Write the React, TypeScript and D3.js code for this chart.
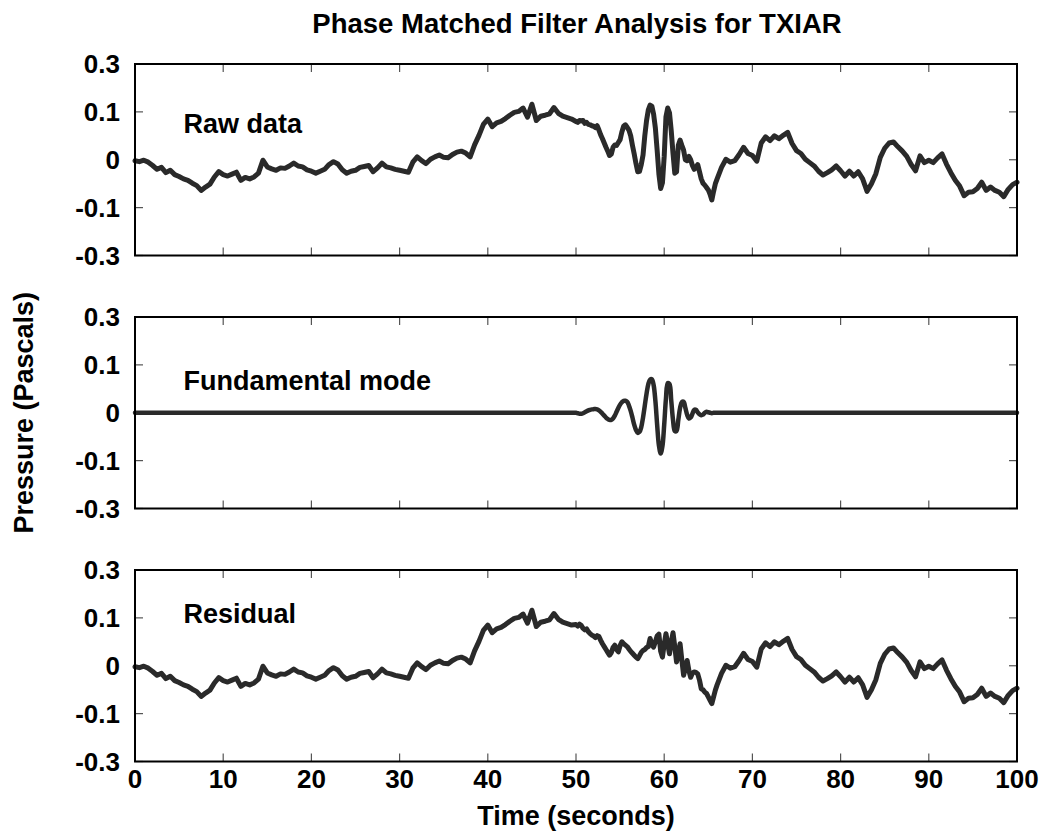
import React from "react";
import * as d3 from "d3";

// ---------- text ----------
const TITLE = "Phase Matched Filter Analysis for TXIAR";
const X_LABEL = "Time (seconds)";
const Y_LABEL = "Pressure (Pascals)";
const PANEL_LABELS = ["Raw data", "Fundamental mode", "Residual"];

// ---------- ticks ----------
const X_TICKS = [0, 10, 20, 30, 40, 50, 60, 70, 80, 90, 100];
const Y_TICK_VALUES = [-0.2, -0.1, 0, 0.1, 0.2];
const Y_TICK_LABELS = ["-0.3", "-0.1", "0", "0.1", "0.3"];

// ---------- time grid (s) ----------
const r1 = (v: number) => Math.round(v * 10) / 10;
const TIMES_A = d3.range(0, 50, 0.5).map(r1); // 0 .. 49.5
const TIMES_B = d3.range(50, 66.001, 0.2).map(r1); // 50 .. 66
const TIMES_C = d3.range(66.5, 100.001, 0.5).map(r1); // 66.5 .. 100

// ---------- residual (Pa) ----------
const RESIDUAL_A = [
  -0.002, -0.004, -0.001, -0.005, -0.012, -0.02, -0.016, -0.027, -0.022, -0.031,
  -0.035, -0.04, -0.043, -0.049, -0.054, -0.064, -0.057, -0.051, -0.036, -0.025,
  -0.031, -0.034, -0.03, -0.026, -0.043, -0.037, -0.04, -0.036, -0.028, -0.001,
  -0.015, -0.019, -0.022, -0.017, -0.018, -0.013, -0.007, -0.013, -0.015, -0.021,
  -0.024, -0.028, -0.024, -0.02, -0.01, -0.004, -0.009, -0.021, -0.028, -0.024,
  -0.022, -0.016, -0.014, -0.012, -0.025, -0.017, -0.007, -0.015, -0.017, -0.02,
  -0.022, -0.024, -0.026, -0.005, 0.006, -0.002, -0.008, 0.001, 0.006, 0.01,
  0.005, 0.004, 0.011, 0.016, 0.018, 0.014, 0.006, 0.031, 0.051, 0.074,
  0.085, 0.069, 0.077, 0.08, 0.086, 0.093, 0.099, 0.101, 0.108, 0.089,
  0.116, 0.082, 0.091, 0.093, 0.096, 0.109, 0.097, 0.091, 0.088, 0.085,
];
const RESIDUAL_B = [
  0.086, 0.083, 0.087, 0.084, 0.078, 0.075, 0.077, 0.071, 0.067, 0.064,
  0.062, 0.059, 0.063, 0.061, 0.053, 0.046, 0.04, 0.034, 0.028, 0.022,
  0.027, 0.038, 0.043, 0.034, 0.029, 0.042, 0.05, 0.046, 0.043, 0.04,
  0.035, 0.03, 0.026, 0.022, 0.018, 0.015, 0.021, 0.028, 0.032, 0.034,
  0.038, 0.04, 0.057, 0.045, 0.039, 0.05, 0.062, 0.066, 0.03, 0.018,
  0.045, 0.067, 0.045, 0.025, 0.05, 0.069, 0.04, 0.008, 0.025, 0.046,
  0.012, -0.02, -0.005, 0.011, -0.01, -0.024, -0.015, -0.013, -0.014, -0.017,
  -0.03, -0.048, -0.05, -0.055, -0.058, -0.065, -0.072, -0.079, -0.065, -0.051,
  -0.04,
];
const RESIDUAL_C = [
  -0.016, 0.001, -0.005, -0.002, 0.011, 0.026, 0.013, 0.009, -0.003, 0.035,
  0.048, 0.04, 0.05, 0.044, 0.051, 0.057, 0.034, 0.019, 0.013, 0.001,
  -0.006, -0.013, -0.024, -0.032, -0.027, -0.021, -0.013, -0.023, -0.034, -0.024,
  -0.034, -0.025, -0.04, -0.066, -0.05, -0.029, 0.005, 0.024, 0.035, 0.037,
  0.027, 0.018, 0.007, -0.01, -0.023, 0.008, -0.006, -0.001, -0.006, 0.004,
  0.012, -0.009, -0.027, -0.043, -0.055, -0.075, -0.068, -0.067, -0.06, -0.047,
  -0.064, -0.057, -0.064, -0.068, -0.077, -0.062, -0.052, -0.047,
];

// ---------- raw data (Pa) on 50..66 s (elsewhere identical to residual) ----------
const RAW_B = [
  0.08, 0.078, 0.082, 0.081, 0.082, 0.076, 0.078, 0.074, 0.073, 0.071,
  0.07, 0.067, 0.071, 0.062, 0.052, 0.044, 0.035, 0.026, 0.018, 0.009,
  0.012, 0.026, 0.031, 0.03, 0.036, 0.042, 0.058, 0.07, 0.073, 0.068,
  0.062, 0.05, 0.03, 0.012, -0.008, -0.025, -0.024, -0.01, 0.01, 0.05,
  0.082, 0.104, 0.114, 0.112, 0.095, 0.066, 0.02, -0.03, -0.06, -0.048,
  0.007, 0.09, 0.108, 0.098, 0.06, 0.013, -0.028, -0.025, 0.03, 0.041,
  0.03, 0.02, 0.0, -0.002, 0.007, 0.0, -0.012, -0.02, -0.016, -0.01,
  -0.025, -0.04, -0.049, -0.053, -0.058, -0.063, -0.072, -0.084, -0.066, -0.05,
  -0.04,
];

// ---------- fundamental mode (Pa), non-zero only on 50..66 s ----------
const FUNDAMENTAL_B = [
  0.0, -0.001, -0.002, -0.002, -0.001, 0.001, 0.003, 0.005, 0.006, 0.007,
  0.0075, 0.0078, 0.007, 0.005, 0.002, -0.002, -0.006, -0.01, -0.013, -0.015,
  -0.015, -0.012, -0.006, 0.002, 0.01, 0.017, 0.022, 0.025, 0.025, 0.023,
  0.015, 0.004, -0.01, -0.025, -0.036, -0.042, -0.04, -0.03, -0.01, 0.015,
  0.04, 0.06, 0.069, 0.07, 0.058, 0.025, -0.025, -0.068, -0.085, -0.07,
  -0.025, 0.03, 0.062, 0.06, 0.025, -0.015, -0.038, -0.038, -0.015, 0.01,
  0.022, 0.023, 0.01, -0.004, -0.012, -0.01, -0.002, 0.006, 0.006, 0.001,
  -0.003, -0.005, -0.004, 0.0, 0.002, 0.001, 0.0, -0.001, 0.0, 0.0,
  0.0,
];

// ---------- assembled series ----------
const TIMES = [...TIMES_A, ...TIMES_B, ...TIMES_C];
const RESIDUAL = [...RESIDUAL_A, ...RESIDUAL_B, ...RESIDUAL_C];
const RAW = [...RESIDUAL_A, ...RAW_B, ...RESIDUAL_C];
const FUNDAMENTAL = [
  ...TIMES_A.map(() => 0),
  ...FUNDAMENTAL_B,
  ...TIMES_C.map(() => 0),
];

type Pt = [number, number];
const SERIES: Pt[][] = [
  TIMES.map((t, i) => [t, RAW[i]] as Pt),
  TIMES.map((t, i) => [t, FUNDAMENTAL[i]] as Pt),
  TIMES.map((t, i) => [t, RESIDUAL[i]] as Pt),
];

// ---------- layout ----------
const W = 1045;
const H = 833;
const X0 = 135;
const X1 = 1017;
const PANEL_TOPS = [64, 317, 570];
const PANEL_H = 191.5;
const LABEL_POS: Pt[] = [
  [5.5, 0.056],
  [5.5, 0.047],
  [5.5, 0.089],
];
const FONT = "'Liberation Sans', Arial, Helvetica, sans-serif";
const LINE_COLOR = "#2a2a2a";
const LINE_WIDTHS = [5, 4.5, 5];
const TICK_LEN = 8;

export default function App() {
  const x = d3.scaleLinear().domain([0, 100]).range([X0, X1]);

  return (
    <svg
      width={W}
      height={H}
      style={{ position: "absolute", left: 0, top: 0, background: "#fff" }}
      fontFamily={FONT}
      fontWeight="bold"
    >
      <rect x={0} y={0} width={W} height={H} fill="#fff" />
      <text x={(X0 + X1) / 2 + 1} y={33} textAnchor="middle" fontSize={27.5}>
        {TITLE}
      </text>

      {PANEL_TOPS.map((top, p) => {
        const y = d3
          .scaleLinear()
          .domain([-0.2, 0.2])
          .range([top + PANEL_H, top]);
        const line = d3
          .line<Pt>()
          .x((d) => x(d[0]))
          .y((d) => y(d[1]))
          .curve(p === 1 ? d3.curveCatmullRom.alpha(0.5) : d3.curveLinear);
        const bottom = top + PANEL_H;
        return (
          <g key={p}>
            {Y_TICK_VALUES.map((v, i) => (
              <g key={"y" + i}>
                <line
                  x1={X0}
                  x2={X0 + TICK_LEN}
                  y1={y(v)}
                  y2={y(v)}
                  stroke="#555"
                  strokeWidth={1.2}
                />
                <line
                  x1={X1 - TICK_LEN}
                  x2={X1}
                  y1={y(v)}
                  y2={y(v)}
                  stroke="#555"
                  strokeWidth={1.2}
                />
                <text x={120} y={y(v) + 9} textAnchor="end" fontSize={26}>
                  {Y_TICK_LABELS[i]}
                </text>
              </g>
            ))}
            {X_TICKS.map((t) => (
              <g key={"x" + t}>
                <line
                  x1={x(t)}
                  x2={x(t)}
                  y1={bottom}
                  y2={bottom - TICK_LEN}
                  stroke="#555"
                  strokeWidth={1.2}
                />
                <line
                  x1={x(t)}
                  x2={x(t)}
                  y1={top}
                  y2={top + TICK_LEN}
                  stroke="#555"
                  strokeWidth={1.2}
                />
              </g>
            ))}
            <path
              d={line(SERIES[p]) || ""}
              fill="none"
              stroke={LINE_COLOR}
              strokeWidth={LINE_WIDTHS[p]}
              strokeLinejoin="round"
              strokeLinecap="round"
            />
            <rect
              x={X0}
              y={top}
              width={X1 - X0}
              height={PANEL_H}
              fill="none"
              stroke="#000"
              strokeWidth={2}
            />
            <text x={x(LABEL_POS[p][0])} y={y(LABEL_POS[p][1])} fontSize={27}>
              {PANEL_LABELS[p]}
            </text>
          </g>
        );
      })}

      {X_TICKS.map((t) => (
        <text key={"xl" + t} x={x(t)} y={788} textAnchor="middle" fontSize={26}>
          {t}
        </text>
      ))}

      <text x={(X0 + X1) / 2} y={825} textAnchor="middle" fontSize={27}>
        {X_LABEL}
      </text>
      <text
        transform={`translate(33, ${(PANEL_TOPS[0] + PANEL_TOPS[2] + PANEL_H) / 2}) rotate(-90)`}
        textAnchor="middle"
        fontSize={27}
      >
        {Y_LABEL}
      </text>
    </svg>
  );
}
